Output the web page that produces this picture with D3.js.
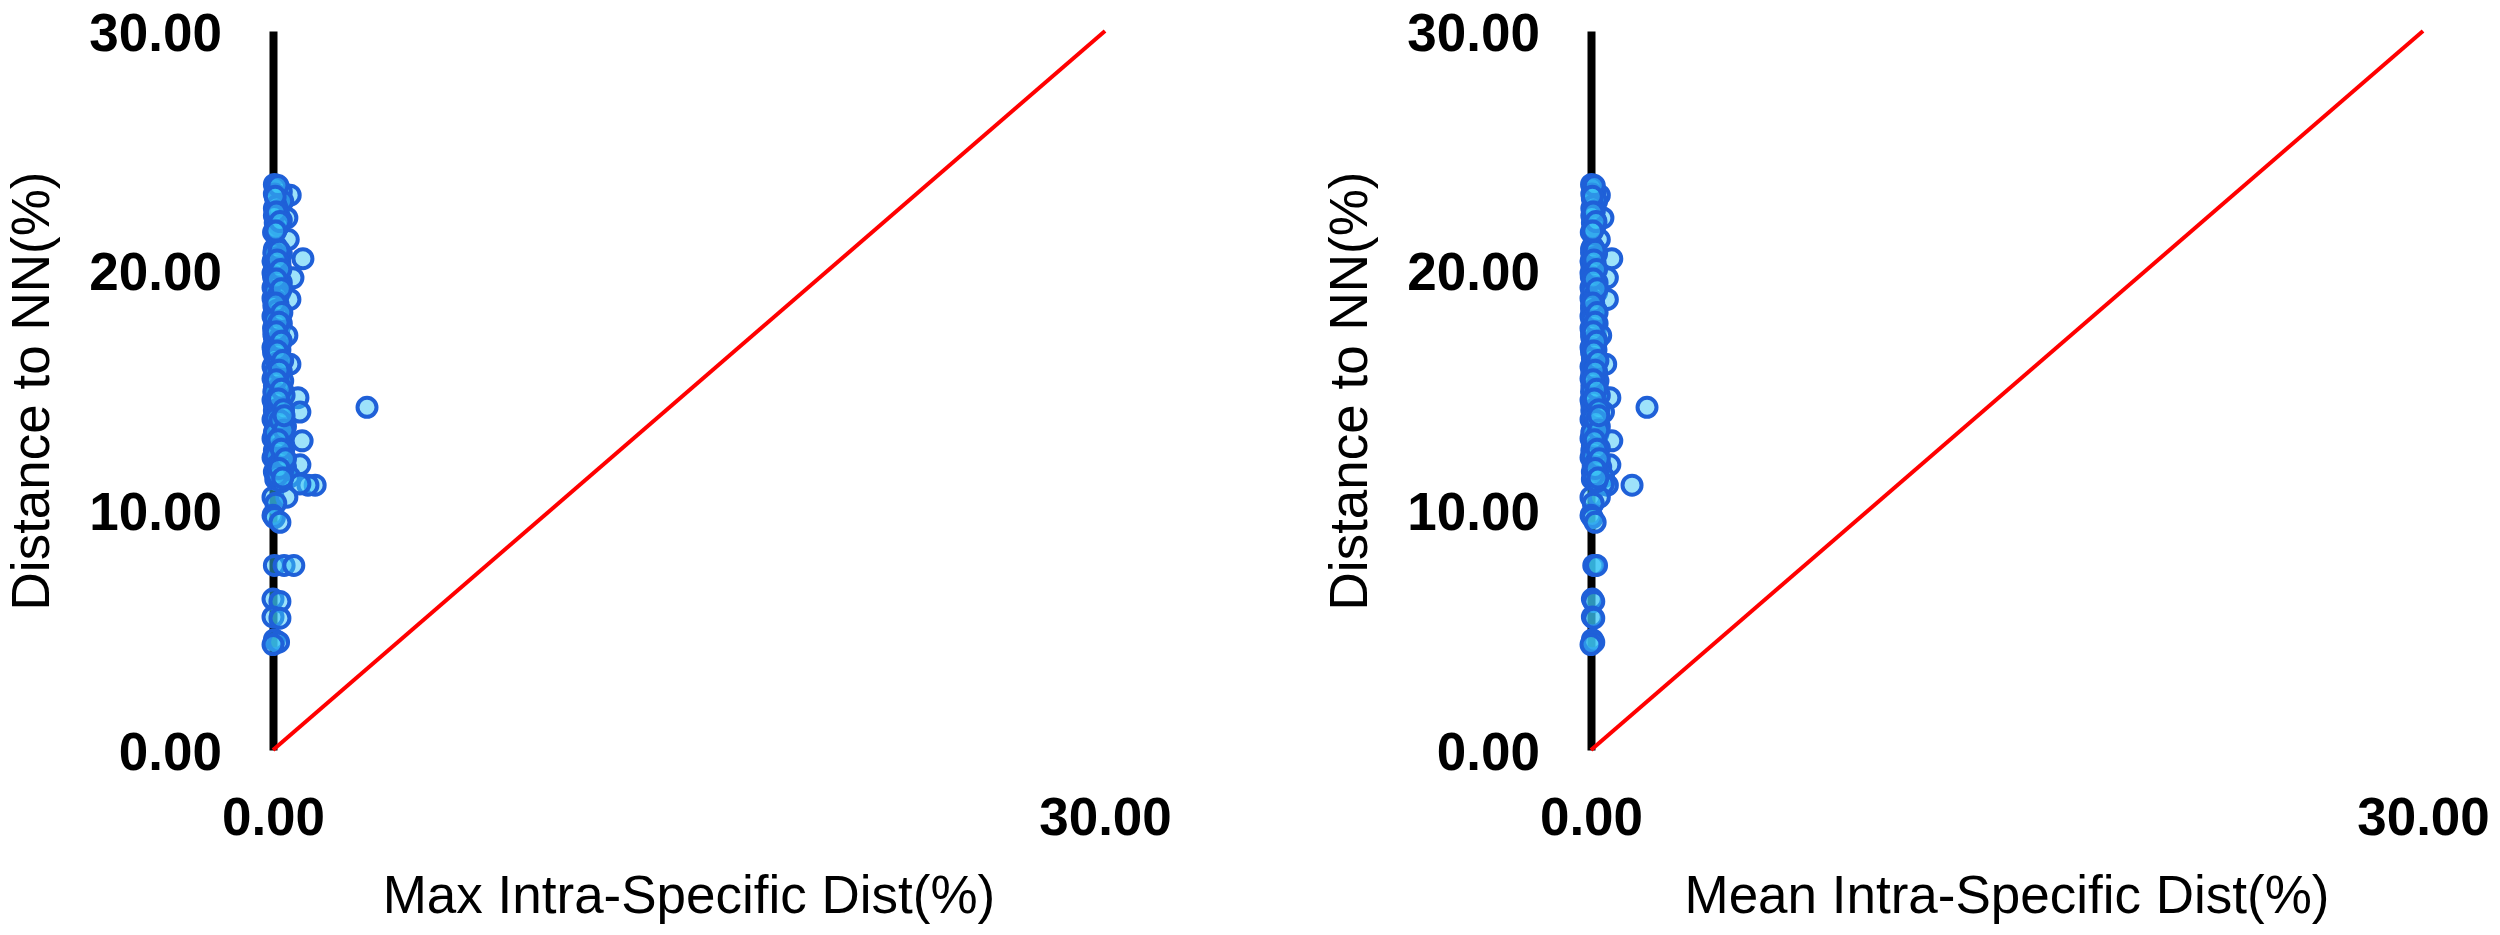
<!DOCTYPE html>
<html>
<head>
<meta charset="utf-8">
<script src="https://cdn.jsdelivr.net/npm/d3@7"></script>
<style>
  body { margin: 0; background: #fff; }
  .tick text { font-family: "Liberation Sans", Arial, sans-serif; font-weight: bold; font-size: 53px; fill: #000; }
  .axis-label { font-family: "Liberation Sans", Arial, sans-serif; font-size: 53px; fill: #000; }
</style>
</head>
<body>
<div id="chart"></div>
<script>
// distance to nearest neighbour (%), one value per species
const nnDist = [
  23.6, 23.4, 23.15, 23.0, 22.8, 22.6, 22.4, 22.2, 22.0, 21.8,
  21.6, 21.3, 20.9, 20.8, 20.5, 20.6, 20.4, 20.3, 20.1, 19.9,
  19.7, 19.8, 19.6, 19.4, 19.3, 19.1, 19.0, 18.8, 18.85, 18.6,
  18.4, 18.3, 18.1, 17.9, 17.8, 17.6, 17.4, 17.3, 17.2, 17.0,
  16.8, 16.7, 16.5, 16.3, 16.1, 16.0, 15.8, 15.7, 15.5, 15.3,
  15.2, 15.0, 14.9, 14.7, 14.6, 14.5, 14.3, 14.35, 14.1, 14.15,
  13.9, 13.8, 13.6, 13.5, 13.3, 13.2, 13.0, 12.9, 12.8, 12.6,
  12.5, 12.3, 12.2, 12.0, 11.9, 11.8, 11.6, 11.5, 11.4, 11.3,
  11.05, 11.05, 11.1, 10.55, 10.55, 10.3, 9.8, 9.7, 9.5, 7.7,
  7.7, 7.7, 6.3, 6.2, 5.55, 5.5, 4.6, 4.5, 4.4, 21.0,
  20.7, 20.2, 19.5, 18.9, 18.2, 17.7, 17.1, 16.6, 16.2, 15.9,
  15.4, 15.1, 14.8, 14.4, 14.0, 13.7, 13.4, 13.1, 12.7, 12.4,
  12.1, 11.7, 11.2, 23.3, 22.9, 22.1,
  20.95, 20.75, 20.55, 20.35, 20.15, 19.95, 19.75, 19.55, 19.35, 19.15,
  18.95, 18.75, 18.55, 18.35, 18.15, 17.95, 17.75, 17.55, 17.35, 17.15,
  16.95, 16.75, 16.55, 16.35, 16.15, 15.95, 15.75, 15.55, 15.35, 15.15,
  14.95, 14.75, 14.55, 14.25, 14.05, 13.85, 13.65, 13.45, 13.25, 13.05,
  12.85, 12.65, 12.45, 12.25, 12.05, 11.85, 11.65, 11.45, 23.5, 23.2,
  22.7, 22.5, 22.3, 21.9, 21.7,
  20.85, 20.45, 20.05, 19.65, 19.25, 18.65, 18.25, 17.85, 17.45, 17.05,
  16.65, 16.25, 15.85, 15.45, 15.05, 14.65, 14.2, 13.75, 13.35, 12.95,
  12.55, 12.15, 11.75, 11.35, 23.55, 23.1, 22.45, 22.05, 21.65, 13.95
];
// max intra-specific distance (%)
const maxIntra = [
  0.05, 0.15, 0.62, 0.10, 0.25, 0.05, 0.20, 0.50, 0.08, 0.15,
  0.02, 0.55, 0.05, 0.20, 1.08, 0.10, 0.00, 0.25, 0.10, 0.00,
  0.72, 0.20, 0.05, 0.15, 0.00, 0.25, 0.08, 0.61, 0.00, 0.18,
  0.05, 0.25, 0.00, 0.12, 0.30, 0.02, 0.20, 0.50, 0.05, 0.15,
  0.00, 0.25, 0.08, 0.18, 0.61, 0.00, 0.30, 0.10, 0.00, 0.22,
  0.05, 0.35, 0.12, 0.90, 0.00, 0.28, 3.39, 0.15, 0.97, 0.05,
  0.30, 0.00, 0.20, 0.45, 0.08, 0.35, 0.00, 1.05, 0.22, 0.40,
  0.05, 0.30, 0.00, 0.15, 0.97, 0.45, 0.05, 0.25, 0.60, 0.10,
  1.52, 1.26, 0.97, 0.00, 0.50, 0.10, 0.00, 0.05, 0.25, 0.05,
  0.40, 0.75, 0.00, 0.25, 0.00, 0.25, 0.05, 0.20, 0.00, 0.12,
  0.30, 0.05, 0.30, 0.15, 0.12, 0.08, 0.28, 0.02, 0.30, 0.15,
  0.35, 0.20, 0.40, 0.05, 0.15, 0.05, 0.25, 0.15, 0.10, 0.20,
  0.35, 0.15, 0.30, 0.30, 0.35, 0.30,
  0.12, 0.03, 0.18, 0.08, 0.15, 0.10, 0.02, 0.20, 0.12, 0.05,
  0.18, 0.10, 0.03, 0.15, 0.20, 0.05, 0.18, 0.10, 0.03, 0.22,
  0.12, 0.05, 0.18, 0.08, 0.15, 0.22, 0.05, 0.18, 0.10, 0.25,
  0.03, 0.18, 0.12, 0.22, 0.30, 0.10, 0.32, 0.15, 0.05, 0.25,
  0.12, 0.30, 0.18, 0.08, 0.28, 0.12, 0.35, 0.15, 0.10, 0.05,
  0.12, 0.18, 0.05, 0.22, 0.10,
  0.22, 0.15, 0.28, 0.12, 0.30, 0.10, 0.32, 0.22, 0.12, 0.30,
  0.15, 0.35, 0.22, 0.12, 0.30, 0.20, 0.38, 0.25, 0.40, 0.18,
  0.30, 0.45, 0.22, 0.35, 0.18, 0.08, 0.12, 0.25, 0.10, 0.40
];
// mean intra-specific distance (%)
const meanIntra = [
  0.02, 0.08, 0.30, 0.05, 0.12, 0.03, 0.10, 0.43, 0.05, 0.10,
  0.01, 0.30, 0.02, 0.10, 0.75, 0.05, 0.00, 0.15, 0.08, 0.00,
  0.59, 0.10, 0.05, 0.12, 0.00, 0.20, 0.05, 0.59, 0.00, 0.10,
  0.02, 0.20, 0.00, 0.08, 0.22, 0.00, 0.15, 0.35, 0.03, 0.10,
  0.00, 0.18, 0.05, 0.12, 0.53, 0.00, 0.20, 0.05, 0.00, 0.15,
  0.03, 0.25, 0.10, 0.68, 0.00, 0.20, 2.02, 0.12, 0.45, 0.03,
  0.22, 0.00, 0.15, 0.30, 0.05, 0.25, 0.00, 0.75, 0.15, 0.30,
  0.03, 0.20, 0.00, 0.10, 0.68, 0.35, 0.05, 0.20, 0.45, 0.05,
  1.48, 0.59, 0.45, 0.00, 0.30, 0.08, 0.00, 0.05, 0.15, 0.10,
  0.15, 0.20, 0.05, 0.10, 0.05, 0.10, 0.05, 0.10, 0.00, 0.06,
  0.20, 0.03, 0.22, 0.10, 0.08, 0.05, 0.20, 0.02, 0.22, 0.10,
  0.25, 0.15, 0.30, 0.03, 0.10, 0.05, 0.18, 0.10, 0.05, 0.15,
  0.25, 0.10, 0.20, 0.15, 0.20, 0.15,
  0.08, 0.02, 0.12, 0.05, 0.10, 0.06, 0.01, 0.15, 0.08, 0.03,
  0.12, 0.06, 0.02, 0.10, 0.15, 0.03, 0.12, 0.06, 0.02, 0.15,
  0.08, 0.03, 0.12, 0.05, 0.10, 0.15, 0.03, 0.12, 0.06, 0.18,
  0.02, 0.12, 0.08, 0.15, 0.20, 0.06, 0.22, 0.10, 0.03, 0.18,
  0.08, 0.20, 0.12, 0.05, 0.20, 0.08, 0.25, 0.10, 0.05, 0.03,
  0.08, 0.12, 0.03, 0.15, 0.06,
  0.15, 0.10, 0.20, 0.08, 0.22, 0.06, 0.22, 0.15, 0.08, 0.20,
  0.10, 0.25, 0.15, 0.08, 0.20, 0.12, 0.28, 0.18, 0.28, 0.12,
  0.22, 0.30, 0.15, 0.25, 0.12, 0.05, 0.08, 0.18, 0.06, 0.28
];

const yTicks = [0, 10, 20, 30];
const xTicks = [0, 30];
const yTitle = 'Distance to NN(%)';
const panels = [
  { left: 273, yTitleX: 49, xTitle: 'Max Intra-Specific Dist(%)', xs: maxIntra },
  { left: 1591, yTitleX: 1367, xTitle: 'Mean Intra-Specific Dist(%)', xs: meanIntra }
];

const width = 2500, height = 935;
const marginTop = 31, plotW = 832, plotH = 719;

const xScale = d3.scaleLinear().domain([0, 30]).range([0, plotW]);
const yScale = d3.scaleLinear().domain([0, 30]).range([plotH, 0]);
const fmt = d3.format('.2f');

const svg = d3.select('#chart').append('svg')
  .attr('width', width)
  .attr('height', height);

panels.forEach((p) => {
  const g = svg.append('g').attr('transform', `translate(${p.left},${marginTop})`);

  // y axis: thick black line, no tick marks
  const yAxis = g.append('g')
    .call(d3.axisLeft(yScale).tickValues(yTicks).tickFormat(fmt)
      .tickSize(0).tickPadding(51));
  yAxis.select('.domain').attr('stroke', '#000').attr('stroke-width', 8);
  yAxis.selectAll('.tick text').attr('dy', '0.36em');

  // x axis: labels only
  const xAxis = g.append('g')
    .attr('transform', `translate(0,${plotH})`)
    .call(d3.axisBottom(xScale).tickValues(xTicks).tickFormat(fmt)
      .tickSize(0).tickPadding(47));
  xAxis.select('.domain').remove();

  // 1:1 reference line
  g.append('line')
    .attr('x1', xScale(0)).attr('y1', yScale(0))
    .attr('x2', xScale(30)).attr('y2', yScale(30))
    .attr('stroke', '#ff0000')
    .attr('stroke-width', 4);

  // one circle per species, translucent fill so the overlaps turn blue
  const pts = nnDist.map((d, i) => ({ x: p.xs[i], y: d }));
  g.selectAll('circle')
    .data(pts)
    .enter().append('circle')
    .attr('cx', d => xScale(d.x))
    .attr('cy', d => yScale(d.y))
    .attr('r', 9.5)
    .attr('fill', '#3cc6f5')
    .attr('fill-opacity', 0.5)
    .attr('stroke', '#1f60d8')
    .attr('stroke-width', 4);

  g.append('text')
    .attr('class', 'axis-label')
    .attr('x', plotW / 2)
    .attr('y', 913 - marginTop)
    .attr('text-anchor', 'middle')
    .text(p.xTitle);

  g.append('text')
    .attr('class', 'axis-label')
    .attr('transform', `translate(${p.yTitleX - p.left},${391 - marginTop}) rotate(-90)`)
    .attr('text-anchor', 'middle')
    .text(yTitle);
});
</script>
</body>
</html>
